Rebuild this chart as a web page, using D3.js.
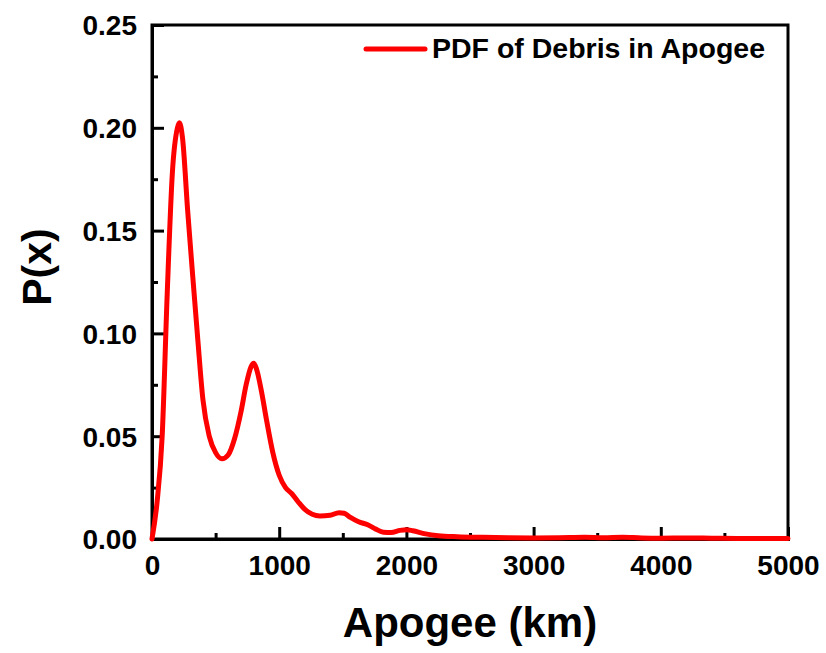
<!DOCTYPE html>
<html>
<head>
<meta charset="utf-8">
<script src="https://cdn.jsdelivr.net/npm/d3@7/dist/d3.min.js"></script>
<style>
  html, body { margin: 0; padding: 0; background: #fff; }
  svg { display: block; font-family: "Liberation Sans", Arial, Helvetica, sans-serif; }
</style>
</head>
<body>
<svg id="chart" width="826" height="653"></svg>
<script>
// Apogee samples (km) and estimated probability density
const apogeeKm = [0, 40, 80, 120, 160, 200, 215, 240, 280, 320, 360, 400, 450, 500, 550, 600, 650, 700, 740, 780, 800, 820, 860, 900, 950, 1000, 1050, 1100, 1150, 1200, 1260, 1320, 1400, 1470, 1510, 1560, 1620, 1700, 1760, 1820, 1880, 1950, 2000, 2050, 2150, 2250, 2400, 2600, 2800, 3000, 3200, 3400, 3550, 3700, 3850, 4000, 4200, 4400, 4600, 4800, 5000];
const density = [0, 0.018, 0.05, 0.12, 0.178, 0.2, 0.2025, 0.195, 0.16, 0.128, 0.097, 0.068, 0.05, 0.042, 0.039, 0.041, 0.049, 0.062, 0.075, 0.084, 0.0855, 0.083, 0.072, 0.058, 0.042, 0.031, 0.025, 0.022, 0.018, 0.0145, 0.012, 0.0112, 0.0115, 0.0128, 0.0125, 0.0105, 0.0085, 0.0068, 0.0048, 0.0033, 0.0032, 0.0042, 0.0045, 0.004, 0.0025, 0.0016, 0.0011, 0.0008, 0.0006, 0.0005, 0.0006, 0.0008, 0.0006, 0.0009, 0.0005, 0.0004, 0.0005, 0.0004, 0.0003, 0.0003, 0.0002];

const xMajorTicks = [0, 1000, 2000, 3000, 4000, 5000];
const xMinorTicks = [500, 1500, 2500, 3500, 4500];
const yMajorTicks = [0, 0.05, 0.10, 0.15, 0.20, 0.25];
const yMinorTicks = [0.025, 0.075, 0.125, 0.175, 0.225];

const seriesName = "PDF of Debris in Apogee";
const xTitle = "Apogee (km)";
const yTitle = "P(x)";

const svg = d3.select("#chart");
const plot = { left: 152, right: 788, top: 25, bottom: 539 };

const x = d3.scaleLinear().domain([0, 5000]).range([plot.left, plot.right]);
const y = d3.scaleLinear().domain([0, 0.25]).range([plot.bottom, plot.top]);

const axisWidth = 3;

// frame (top and right edges)
svg.append("rect")
  .attr("x", plot.left).attr("y", plot.top)
  .attr("width", plot.right - plot.left).attr("height", plot.bottom - plot.top)
  .attr("fill", "none").attr("stroke", "#000").attr("stroke-width", axisWidth);

// bottom axis, ticks drawn inward
const gx = svg.append("g").attr("transform", `translate(0,${plot.bottom})`);
gx.call(d3.axisBottom(x).tickValues(xMajorTicks).tickSize(-12).tickPadding(16)
    .tickFormat(d3.format("d")));
gx.append("g").call(d3.axisBottom(x).tickValues(xMinorTicks).tickSize(-6).tickFormat(""));

// left axis, ticks drawn inward
const gy = svg.append("g").attr("transform", `translate(${plot.left},0)`);
gy.call(d3.axisLeft(y).tickValues(yMajorTicks).tickSize(-12).tickPadding(15)
    .tickFormat(d3.format(".2f")));
gy.append("g").call(d3.axisLeft(y).tickValues(yMinorTicks).tickSize(-6).tickFormat(""));

svg.selectAll(".domain").attr("stroke", "#000").attr("stroke-width", axisWidth);
svg.selectAll(".tick line").attr("stroke", "#000").attr("stroke-width", axisWidth);
svg.selectAll(".tick text")
  .attr("fill", "#000")
  .style("font-size", "28px")
  .style("font-weight", "bold")
  .style("font-family", "'Liberation Sans', Arial, sans-serif");
gx.selectAll(".tick text").attr("dy", "0.71em");
gy.selectAll(".tick text").attr("dy", "0.35em");

// density curve
const line = d3.line()
  .x((d, i) => x(apogeeKm[i]))
  .y(d => y(d))
  .curve(d3.curveMonotoneX);

svg.append("path")
  .datum(density)
  .attr("d", line)
  .attr("fill", "none")
  .attr("stroke", "#ff0000")
  .attr("stroke-width", 5)
  .attr("stroke-linejoin", "round")
  .attr("stroke-linecap", "round");

// legend
const legend = svg.append("g");
legend.append("line")
  .attr("x1", 366).attr("x2", 425).attr("y1", 49).attr("y2", 49)
  .attr("stroke", "#ff0000").attr("stroke-width", 5).attr("stroke-linecap", "round");
legend.append("text")
  .attr("x", 432).attr("y", 58)
  .style("font-size", "28.5px").style("font-weight", "bold")
  .text(seriesName);

// axis titles
svg.append("text")
  .attr("x", (plot.left + plot.right) / 2).attr("y", 637)
  .attr("text-anchor", "middle")
  .style("font-size", "42px").style("font-weight", "bold")
  .text(xTitle);

svg.append("text")
  .attr("transform", "translate(51,267) rotate(-90)")
  .attr("text-anchor", "middle")
  .style("font-size", "41px").style("font-weight", "bold")
  .text(yTitle);
</script>
</body>
</html>
